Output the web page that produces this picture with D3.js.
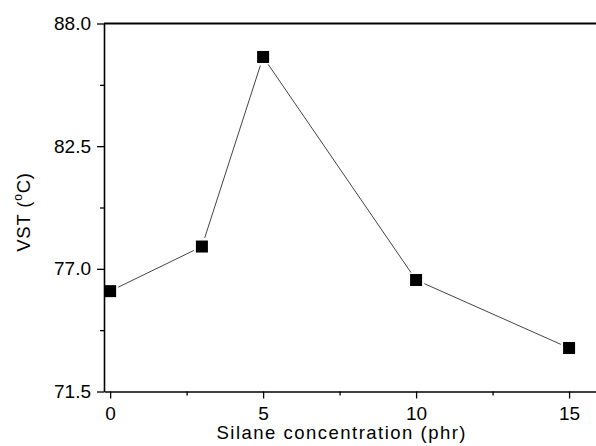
<!DOCTYPE html>
<html>
<head>
<meta charset="utf-8">
<script src="https://cdn.jsdelivr.net/npm/d3@7"></script>
<style>
  body { margin: 0; background: #fff; }
  svg { display: block; font-family: "Liberation Sans", Arial, sans-serif; }
</style>
</head>
<body>
<svg id="chart" width="596" height="446"></svg>
<script>
const silane = [0, 3, 5, 10, 15];
const vst = [76.0, 78.0, 86.5, 76.5, 73.45];
const xMajorTicks = [0, 5, 10, 15];
const xMinorTicks = [2.5, 7.5, 12.5];
const yMajorTicks = [71.5, 77.0, 82.5, 88.0];
const yMinorTicks = [74.25, 79.75, 85.25];

const svg = d3.select("#chart");
const plotLeft = 104, plotRight = 596, plotTop = 23.5, plotBottom = 391.5;

const x = d3.scaleLinear().domain([-0.2, 15.88]).range([plotLeft, plotRight]);
const y = d3.scaleLinear().domain([71.5, 88]).range([plotBottom, plotTop]);

// axes
const xAxis = svg.append("g").attr("transform", `translate(0,${plotBottom})`);
xAxis.call(d3.axisBottom(x).tickValues(xMajorTicks).tickSize(7).tickSizeOuter(0).tickPadding(8).tickFormat(d3.format("d")));
xAxis.append("g").call(d3.axisBottom(x).tickValues(xMinorTicks).tickSize(4).tickFormat(""))
  .select(".domain").remove();

const yAxis = svg.append("g").attr("transform", `translate(${plotLeft},0)`);
yAxis.call(d3.axisLeft(y).tickValues(yMajorTicks).tickSize(7).tickSizeOuter(0).tickPadding(6).tickFormat(d3.format(".1f")));
yAxis.append("g").call(d3.axisLeft(y).tickValues(yMinorTicks).tickSize(4).tickFormat(""))
  .select(".domain").remove();

svg.selectAll(".domain").attr("stroke", "#000").attr("stroke-width", 1.6);
svg.selectAll(".tick line").attr("stroke", "#000").attr("stroke-width", 1.3);
svg.selectAll(".tick text").attr("font-size", 19).attr("fill", "#000")
  .attr("font-family", "Liberation Sans, Arial, sans-serif");

// top frame line
svg.append("line")
  .attr("x1", plotLeft).attr("x2", plotRight)
  .attr("y1", plotTop).attr("y2", plotTop)
  .attr("stroke", "#000").attr("stroke-width", 2);

// connecting lines, leaving a small gap near each marker
const pts = silane.map((s, i) => [x(s), y(vst[i])]);
const gap = 9;
const segs = d3.pairs(pts).map(([a, b]) => {
  const dx = b[0] - a[0], dy = b[1] - a[1];
  const len = Math.hypot(dx, dy);
  const ux = dx / len, uy = dy / len;
  return [a[0] + ux * gap, a[1] + uy * gap, b[0] - ux * gap, b[1] - uy * gap];
});
svg.append("g").selectAll("line").data(segs).join("line")
  .attr("x1", d => d[0]).attr("y1", d => d[1])
  .attr("x2", d => d[2]).attr("y2", d => d[3])
  .attr("stroke", "#444").attr("stroke-width", 1);

// markers
const ms = 12;
svg.append("g").selectAll("rect").data(pts).join("rect")
  .attr("x", d => d[0] - ms / 2).attr("y", d => d[1] - ms / 2)
  .attr("width", ms).attr("height", ms)
  .attr("fill", "#000");

// axis titles
svg.append("text")
  .attr("x", 341).attr("y", 439)
  .attr("text-anchor", "middle")
  .attr("font-size", 18.5)
  .attr("textLength", 249)
  .attr("lengthAdjust", "spacing")
  .text("Silane concentration (phr)");

const yt = svg.append("text")
  .attr("transform", "translate(30,212) rotate(-90)")
  .attr("text-anchor", "middle")
  .attr("font-size", 18.5)
  .attr("letter-spacing", 0.8);
yt.append("tspan").text("VST (");
yt.append("tspan").attr("font-size", 12).attr("dy", -8).text("o");
yt.append("tspan").attr("dy", 8).text("C)");
</script>
</body>
</html>
